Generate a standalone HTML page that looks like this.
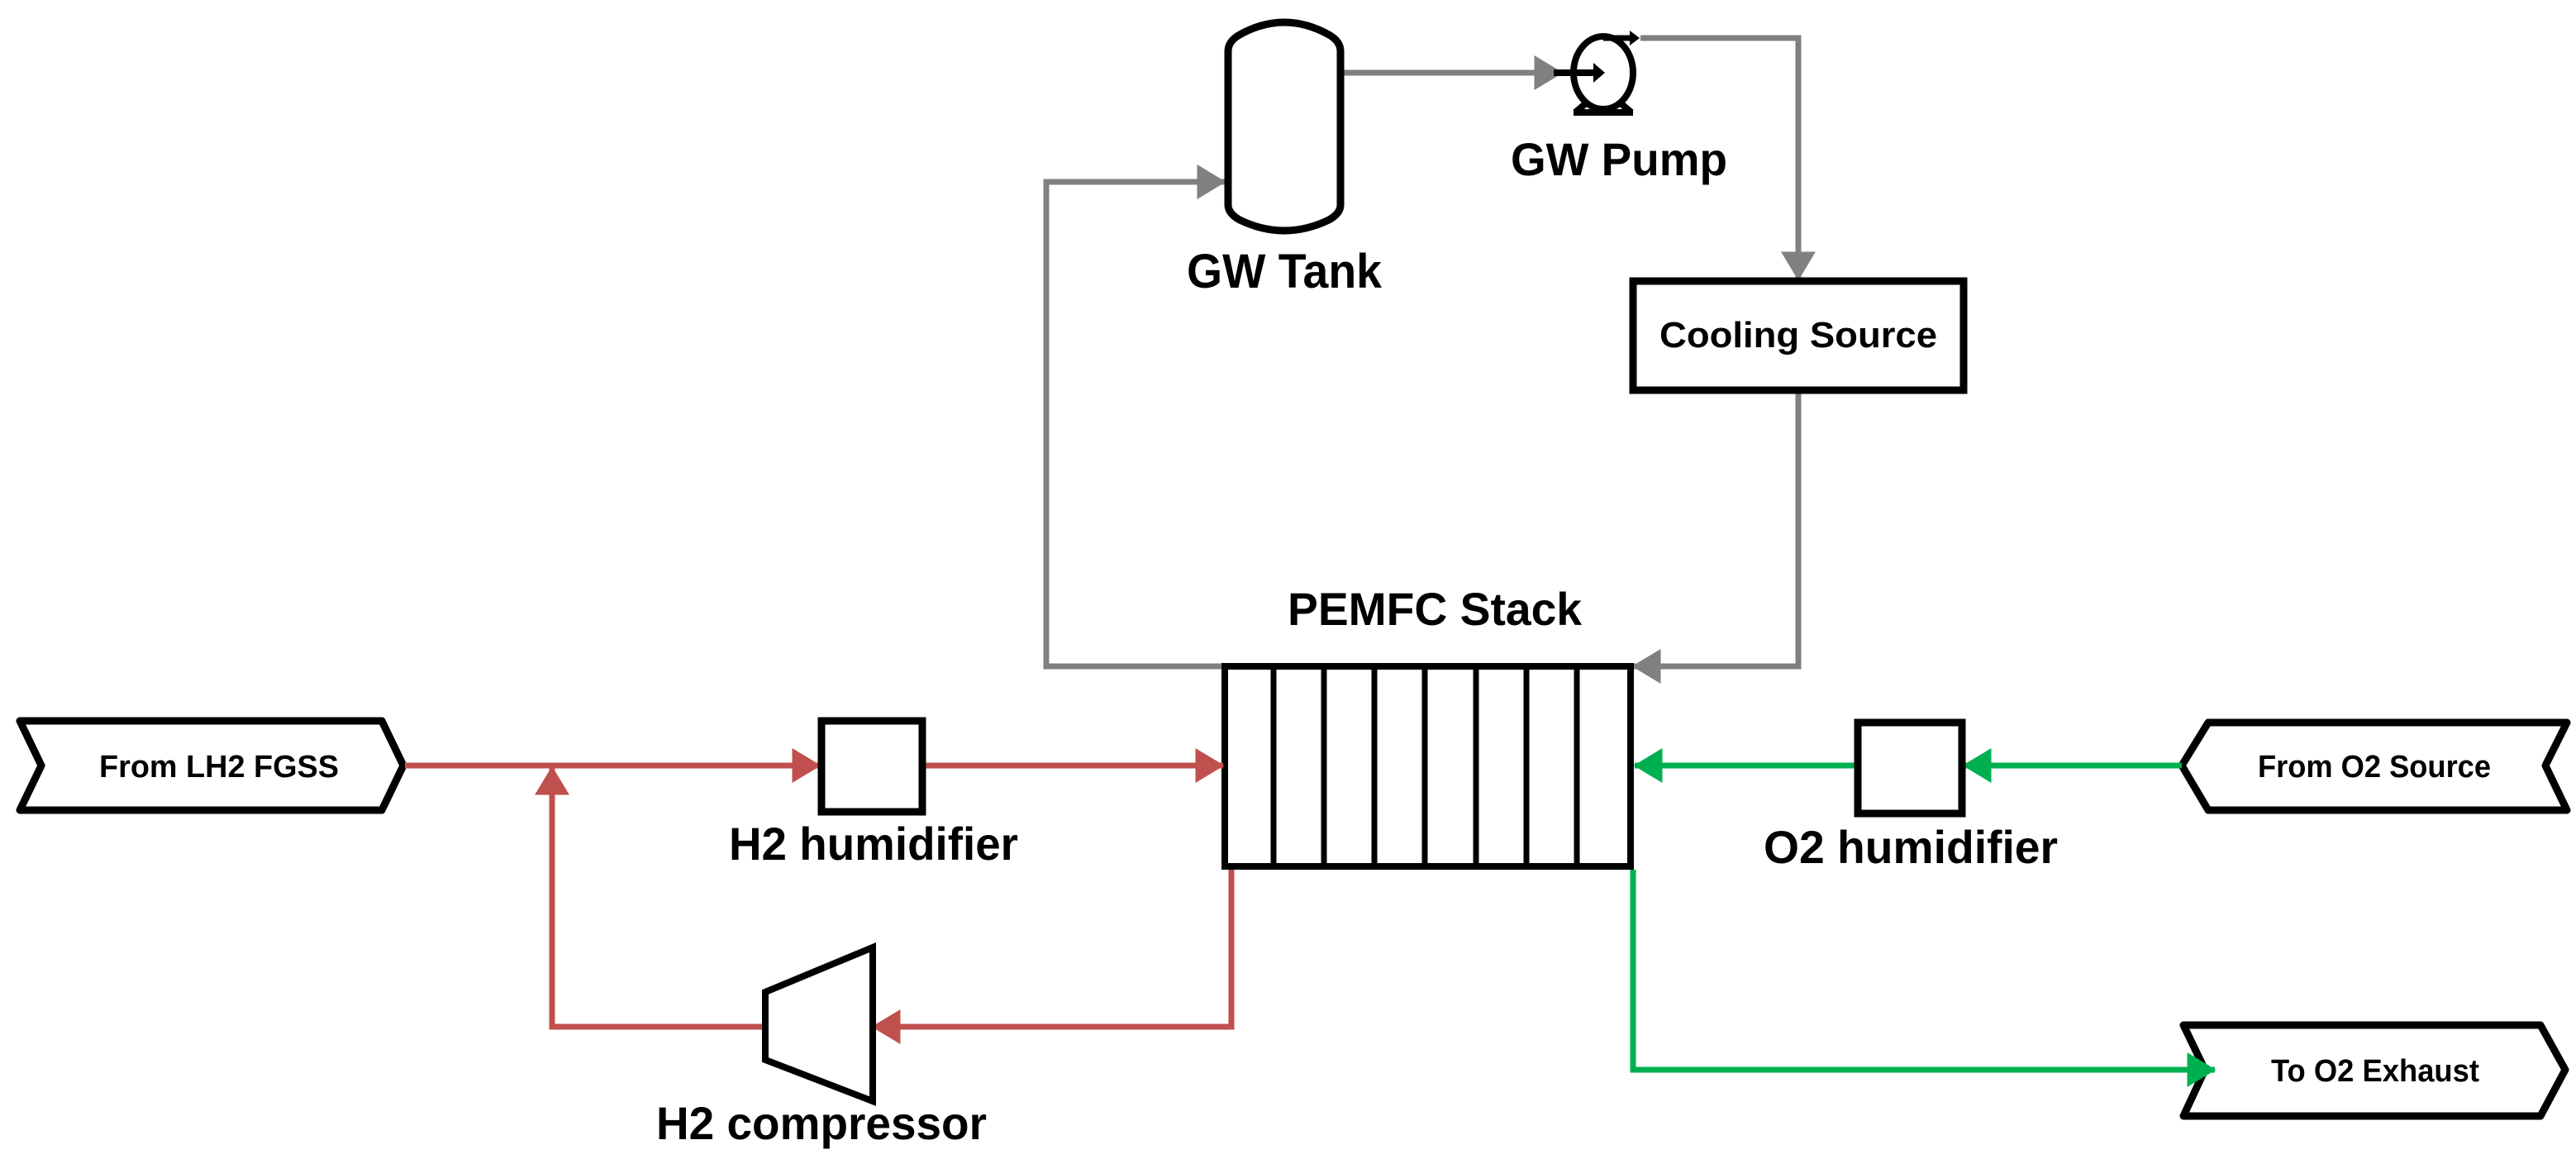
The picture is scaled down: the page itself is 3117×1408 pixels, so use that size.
<!DOCTYPE html>
<html><head><meta charset="utf-8"><style>
html,body{margin:0;padding:0;background:#fff}
svg{display:block}
text{font-family:"Liberation Sans",Arial,sans-serif;font-weight:bold;fill:#000}
</style></head><body>
<svg width="3117" height="1408" viewBox="0 0 3117 1408" xmlns="http://www.w3.org/2000/svg">
<defs>
<marker id="ag" markerWidth="5" markerHeight="6" refX="4.8" refY="3" orient="auto" markerUnits="strokeWidth"><path d="M0,0 L5,3 L0,6 Z" fill="#808080"/></marker>
<marker id="ar" markerWidth="5" markerHeight="6" refX="4.8" refY="3" orient="auto" markerUnits="strokeWidth"><path d="M0,0 L5,3 L0,6 Z" fill="#C0504D"/></marker>
<marker id="an" markerWidth="5" markerHeight="6" refX="4.8" refY="3" orient="auto" markerUnits="strokeWidth"><path d="M0,0 L5,3 L0,6 Z" fill="#00B050"/></marker>
</defs>

<g fill="none" stroke="#808080" stroke-width="7">
<polyline points="1622,88 1890,88" marker-end="url(#ag)"/>
<polyline points="1985,46 2176,46 2176,338" marker-end="url(#ag)"/>
<polyline points="2176,472 2176,806 1976,806" marker-end="url(#ag)"/>
<polyline points="1480,806 1266,806 1266,220 1482,220" marker-end="url(#ag)"/>
</g>

<path d="M1486,62 Q1486,50 1500,42 Q1554,12 1608,42 Q1622,50 1622,62 L1622,248 Q1622,258 1608,266 Q1554,292 1500,266 Q1486,258 1486,248 Z" fill="#fff" stroke="#000" stroke-width="9"/>
<text x="1436" y="348" font-size="58" textLength="236" lengthAdjust="spacingAndGlyphs">GW Tank</text>

<ellipse cx="1940" cy="88" rx="36" ry="44" fill="#fff" stroke="#000" stroke-width="8"/>
<path d="M1906,136 L1920,124 M1974,136 L1960,124 M1904,136 L1976,136" stroke="#000" stroke-width="8" fill="none"/>
<line x1="1880" y1="88" x2="1930" y2="88" stroke="#000" stroke-width="8"/>
<path d="M1928,76 L1942,88 L1928,100 Z" fill="#000"/>
<line x1="1940" y1="46" x2="1974" y2="46" stroke="#000" stroke-width="7"/>
<path d="M1972,37 L1984,46 L1972,55 Z" fill="#000"/>
<text x="1828" y="212" font-size="56" textLength="262" lengthAdjust="spacingAndGlyphs">GW Pump</text>

<rect x="1976" y="340" width="400" height="132" fill="#fff" stroke="#000" stroke-width="9"/>
<text x="2008" y="420" font-size="44" textLength="336" lengthAdjust="spacingAndGlyphs">Cooling Source</text>

<text x="1558" y="756" font-size="56" textLength="356" lengthAdjust="spacingAndGlyphs">PEMFC Stack</text>
<rect x="1482" y="806" width="491" height="242" fill="#fff" stroke="#000" stroke-width="8"/>
<g stroke="#000" stroke-width="7">
<line x1="1541" y1="806" x2="1541" y2="1048"/><line x1="1602" y1="806" x2="1602" y2="1048"/>
<line x1="1663" y1="806" x2="1663" y2="1048"/><line x1="1724" y1="806" x2="1724" y2="1048"/>
<line x1="1786" y1="806" x2="1786" y2="1048"/><line x1="1847" y1="806" x2="1847" y2="1048"/>
<line x1="1908" y1="806" x2="1908" y2="1048"/>
</g>

<path d="M24,872 L462,872 L488,926 L462,980 L24,980 L50,926 Z" fill="#fff" stroke="#000" stroke-width="9" stroke-linejoin="round"/>
<text x="120" y="940" font-size="38" textLength="290" lengthAdjust="spacingAndGlyphs">From LH2 FGSS</text>
<path d="M2672,874 L3106,874 L3080,926 L3106,980 L2672,980 L2640,926 Z" fill="#fff" stroke="#000" stroke-width="9" stroke-linejoin="round"/>
<text x="2732" y="940" font-size="38" textLength="282" lengthAdjust="spacingAndGlyphs">From O2 Source</text>
<path d="M2642,1240 L3074,1240 L3104,1294 L3074,1350 L2642,1350 L2668,1294 Z" fill="#fff" stroke="#000" stroke-width="9" stroke-linejoin="round"/>
<text x="2748" y="1308" font-size="38" textLength="252" lengthAdjust="spacingAndGlyphs">To O2 Exhaust</text>

<g fill="none" stroke="#C0504D" stroke-width="7">
<polyline points="490,926 992,926" marker-end="url(#ar)"/>
<polyline points="1116,926 1480,926" marker-end="url(#ar)"/>
<polyline points="1490,1052 1490,1242 1056,1242" marker-end="url(#ar)"/>
<polyline points="924,1242 668,1242 668,928" marker-end="url(#ar)"/>
</g>
<rect x="994" y="872" width="122" height="110" fill="#fff" stroke="#000" stroke-width="9"/>
<text x="882" y="1040" font-size="56" textLength="350" lengthAdjust="spacingAndGlyphs">H2 humidifier</text>
<path d="M926,1200 L1056,1146 L1056,1332 L926,1282 Z" fill="#fff" stroke="#000" stroke-width="8"/>
<text x="794" y="1378" font-size="56" textLength="400" lengthAdjust="spacingAndGlyphs">H2 compressor</text>

<g fill="none" stroke="#00B050" stroke-width="7">
<polyline points="2640,926 2376,926" marker-end="url(#an)"/>
<polyline points="2248,926 1978,926" marker-end="url(#an)"/>
<polyline points="1976,1052 1976,1294 2680,1294" marker-end="url(#an)"/>
</g>
<rect x="2248" y="874" width="126" height="110" fill="#fff" stroke="#000" stroke-width="9"/>
<text x="2134" y="1044" font-size="56" textLength="356" lengthAdjust="spacingAndGlyphs">O2 humidifier</text>
</svg>
</body></html>
